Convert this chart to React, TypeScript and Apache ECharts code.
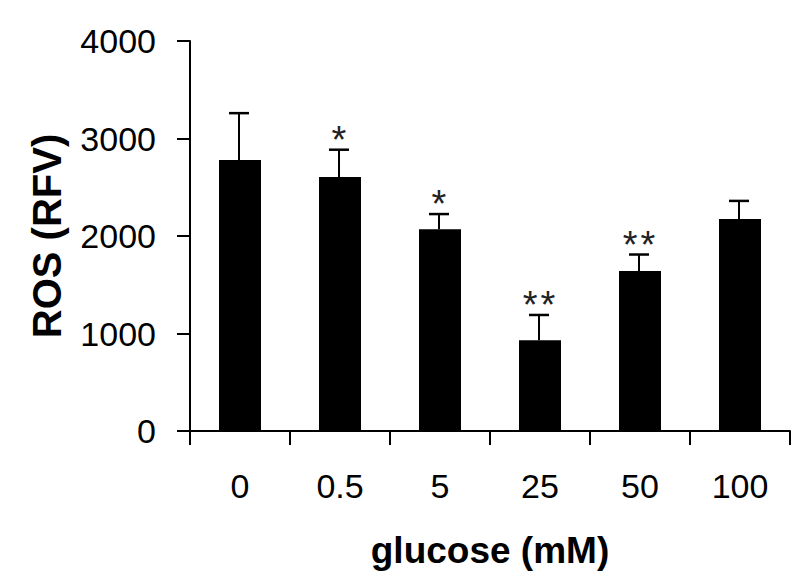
import React, { useEffect, useRef } from "react";
import * as echarts from "echarts";

const categories = ["0", "0.5", "5", "25", "50", "100"];
const means = [2780, 2605, 2070, 930, 1640, 2175];
const errors = [480, 280, 155, 260, 170, 185];
const stars = [0, 1, 1, 2, 2, 0];
const yTicks = { min: 0, max: 4000, interval: 1000 };

const FONT = "'Liberation Sans', Arial, sans-serif";

export default function App() {
  const ref = useRef<HTMLDivElement>(null);
  useEffect(() => {
    if (!ref.current) return;
    const chart = echarts.init(ref.current, undefined, { renderer: "svg" });
    const errData = categories.map((_, i) => [i, means[i], errors[i], stars[i]]);
    chart.setOption({
      animation: false,
      backgroundColor: "#ffffff",
      grid: { left: 190, right: 10, top: 41, bottom: 154 },
      xAxis: {
        type: "category",
        data: categories,
        boundaryGap: true,
        axisLine: { lineStyle: { color: "#000", width: 2 } },
        axisTick: { show: true, length: 14, lineStyle: { color: "#000", width: 2 } },
        axisLabel: { color: "#000", fontSize: 34, fontFamily: FONT, margin: 38 },
        name: "glucose (mM)",
        nameLocation: "middle",
        nameGap: 101,
        nameTextStyle: { color: "#000", fontSize: 37, fontWeight: "bold", fontFamily: FONT },
      },
      yAxis: {
        type: "value",
        min: yTicks.min,
        max: yTicks.max,
        interval: yTicks.interval,
        splitLine: { show: false },
        axisLine: { show: true, lineStyle: { color: "#000", width: 2 } },
        axisTick: { show: true, length: 13, lineStyle: { color: "#000", width: 2 } },
        axisLabel: {
          color: "#000",
          fontSize: 34,
          fontFamily: FONT,
          margin: 34,
          formatter: (v: number) => String(v),
        },
        name: "ROS (RFV)",
        nameLocation: "middle",
        nameGap: 123,
        nameTextStyle: { color: "#000", fontSize: 40, fontWeight: "bold", fontFamily: FONT },
      },
      series: [
        {
          type: "bar",
          data: means,
          barWidth: 42,
          itemStyle: { color: "#000" },
        },
        {
          type: "custom",
          data: errData,
          z: 5,
          clip: false,
          renderItem: (params: any, api: any) => {
            const idx = api.value(0);
            const m = api.value(1);
            const e = api.value(2);
            const n = api.value(3);
            const base = api.coord([idx, m]);
            const top = api.coord([idx, m + e]);
            const x = base[0] - 1;
            const children: any[] = [
              {
                type: "line",
                shape: { x1: x, y1: base[1], x2: x, y2: top[1] },
                style: { stroke: "#000", lineWidth: 2 },
              },
              {
                type: "line",
                shape: { x1: x - 10, y1: top[1], x2: x + 10, y2: top[1] },
                style: { stroke: "#000", lineWidth: 2.5 },
              },
            ];
            const spacing = 17.6;
            for (let k = 0; k < n; k++) {
              const sx = x + (k - (n - 1) / 2) * spacing;
              children.push({
                type: "text",
                style: {
                  text: "*",
                  x: sx,
                  y: top[1] - 10,
                  fontSize: 38,
                  fontFamily: FONT,
                  fill: "#222",
                  align: "center",
                  verticalAlign: "middle",
                },
              });
            }
            return { type: "group", children };
          },
        },
      ],
    });
    return () => chart.dispose();
  }, []);
  return (
    <div
      ref={ref}
      style={{ position: "absolute", left: 0, top: 0, width: 800, height: 585 }}
    />
  );
}
